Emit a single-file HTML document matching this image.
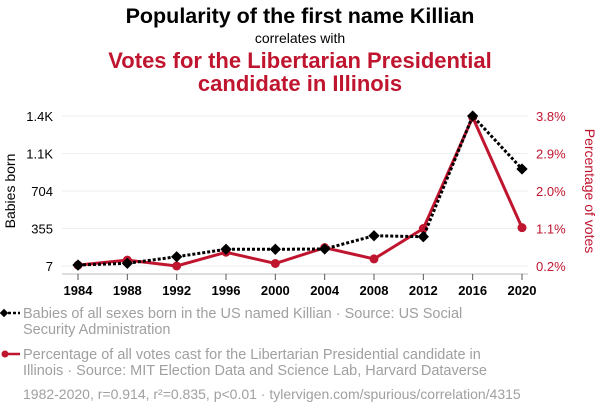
<!DOCTYPE html>
<html><head><meta charset="utf-8"><style>
body{margin:0;background:#fff;width:600px;height:414px;overflow:hidden;font-family:"Liberation Sans",sans-serif}
</style></head><body>
<svg id="c" width="600" height="414" xmlns="http://www.w3.org/2000/svg" font-family="Liberation Sans, sans-serif">
<text x="300" y="23" text-anchor="middle" font-size="21.5" font-weight="bold" fill="#000">Popularity of the first name Killian</text>
<text x="300" y="43" text-anchor="middle" font-size="14" fill="#000">correlates with</text>
<text x="300" y="68" text-anchor="middle" font-size="22" font-weight="bold" fill="#c0152f">Votes for the Libertarian Presidential</text>
<text x="300" y="91" text-anchor="middle" font-size="22" font-weight="bold" fill="#c0152f">candidate in Illinois</text>
<g id="grid"></g>
<g id="axes"></g>
<g id="series"></g>
<text transform="translate(15,191) rotate(-90)" text-anchor="middle" font-size="14" fill="#000">Babies born</text>
<text transform="translate(585,191) rotate(90)" text-anchor="middle" font-size="14" fill="#c0152f">Percentage of votes</text>
<g>
<line x1="3" y1="313" x2="20" y2="313" stroke="#000" stroke-width="2.5" stroke-dasharray="3,2"/>
<rect x="1" y="310" width="6" height="6" fill="#000" transform="rotate(45 4 313)"/>
<text x="23" y="318" font-size="14.5" fill="#a0a0a0">Babies of all sexes born in the US named Killian · Source: US Social</text>
<text x="23" y="334" font-size="14.5" fill="#a0a0a0">Security Administration</text>
</g>
<g>
<line x1="3" y1="354" x2="20" y2="354" stroke="#c0152f" stroke-width="2.5"/>
<circle cx="5" cy="354" r="3.5" fill="#c0152f"/>
<text x="23" y="359" font-size="14.5" fill="#a0a0a0">Percentage of all votes cast for the Libertarian Presidential candidate in</text>
<text x="23" y="375" font-size="14.5" fill="#a0a0a0">Illinois · Source: MIT Election Data and Science Lab, Harvard Dataverse</text>
</g>
<text x="23" y="399" font-size="14" fill="#a0a0a0">1982-2020, r=0.914, r²=0.835, p&lt;0.01 · tylervigen.com/spurious/correlation/4315</text>
</svg>
<script>
const years=[1984,1988,1992,1996,2000,2004,2008,2012,2016,2020];
const babies=[16,32,93,162,162,165,288,279,1400,908];
const votes=[0.22,0.34,0.2,0.53,0.26,0.64,0.37,1.1,3.77,1.12];
const leftTicks=[7,355,704,1052,1400];
const leftTickLabels=["7","355","704","1.1K","1.4K"];
const rightTicks=[0.2,1.1,2.0,2.9,3.8];
const rightTickLabels=["0.2%","1.1%","2.0%","2.9%","3.8%"];
const NS="http://www.w3.org/2000/svg";
const x=y=>78+(y-1984)*(522-78)/36;
const yl=v=>266-(v-7)*150/1393;
const yr=v=>266-(v-0.2)*150/3.6;
function mk(tag,attrs,parent){const e=document.createElementNS(NS,tag);for(const k in attrs)e.setAttribute(k,attrs[k]);document.getElementById(parent).appendChild(e);return e;}
leftTicks.forEach((t,i)=>{
 const g=mk('line',{x1:62,x2:528,y1:yl(t),y2:yl(t),stroke:'#eeeeee','stroke-width':1},'grid');
 
 
 const l=mk('text',{x:53,y:yl(t)+5,'text-anchor':'end','font-size':13,fill:'#000'},'axes');
 l.textContent=leftTickLabels[i];
 
 
});
rightTicks.forEach((t,i)=>{
 const l=mk('text',{x:536,y:yr(t)+5,'font-size':13,fill:'#c0152f'},'axes');
 l.textContent=rightTickLabels[i];
 
 
});
const ax=mk('line',{x1:62,x2:528,y1:274,y2:274,stroke:'#bbb','stroke-width':1},'axes');


years.forEach(yv=>{
 const tk=mk('line',{x1:x(yv),x2:x(yv),y1:274,y2:280,stroke:'#555','stroke-width':1},'axes');
 
 
 const l=mk('text',{x:x(yv),y:295,'text-anchor':'middle','font-size':13,'font-weight':'bold',fill:'#000'},'axes');
 l.textContent=yv;
 
 
});
const rp=mk('polyline',{points:years.map((yv,i)=>x(yv)+','+yr(votes[i])).join(' '),fill:'none',stroke:'#c0152f','stroke-width':3},'series');


years.forEach((yv,i)=>{
 const c=mk('circle',{cx:x(yv),cy:yr(votes[i]),r:4.5,fill:'#c0152f'},'series');
 
 
});
const bp=mk('polyline',{points:years.map((yv,i)=>x(yv)+','+yl(babies[i])).join(' '),fill:'none',stroke:'#000','stroke-width':3,'stroke-dasharray':'3,2'},'series');


years.forEach((yv,i)=>{
 const cx=x(yv),cy=yl(babies[i]);
 const d=mk('rect',{x:cx-4,y:cy-4,width:8,height:8,fill:'#000',transform:`rotate(45 ${cx} ${cy})`},'series');
 
 
});
</script>
</body></html>
